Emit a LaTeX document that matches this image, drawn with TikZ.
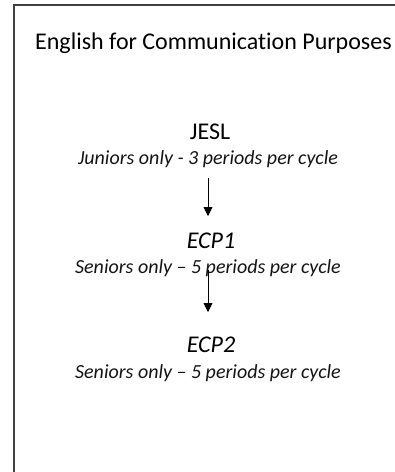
\documentclass[tikz,border=0pt]{standalone}
\usepackage{fontspec}
\setmainfont[Ligatures={NoCommon}]{Carlito}
\usetikzlibrary{arrows.meta}
\tikzset{
  big/.style={inner sep=0pt, anchor=base, font=\fontsize{24}{28}\selectfont},
  bigit/.style={inner sep=0pt, anchor=base, font=\fontsize{24}{28}\selectfont\itshape},
  note/.style={inner sep=0pt, anchor=base, font=\fontsize{20}{24}\selectfont\itshape, text=black!92},
  arr/.style={line width=0.8pt, -{Triangle[width=9pt,length=9pt]}},
  frame/.style={line width=2pt, draw=black!75}
}
\begin{document}
\begin{tikzpicture}[x=1pt,y=1pt]
\useasboundingbox (0,0) rectangle (395,-472);
\draw[frame] (14,-480) -- (14,-5) -- (400,-5);
\node[big] (title) at (213.5,-49) {English for Communication Purposes};
\node[big] (jesl) at (210,-139) {JESL};
\node[note] (juniors) at (208,-164) {Juniors only - 3 periods per cycle};
\node[bigit] (ecp1) at (211,-248) {ECP1};
\node[note] (s1) at (208,-273) {Seniors only – 5 periods per cycle};
\node[bigit] (ecp2) at (211,-352) {ECP2};
\node[note] (s2) at (208,-378) {Seniors only – 5 periods per cycle};
\draw[arr, shorten <=14pt, shorten >=32pt] (juniors.base) -- (juniors.base |- ecp1.base);
\draw[arr, shorten <=-3pt, shorten >=40pt] (s1.base) -- (s1.base |- ecp2.base);
\end{tikzpicture}
\end{document}
